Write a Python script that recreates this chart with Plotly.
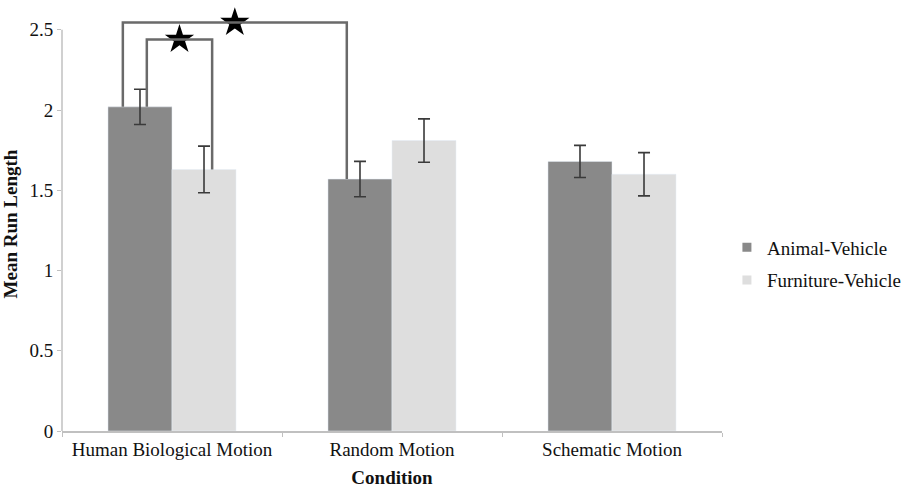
import plotly.graph_objects as go

categories = ["Human Biological Motion", "Random Motion", "Schematic Motion"]
animal = [2.02, 1.57, 1.68]
animal_err = [0.11, 0.11, 0.10]
furniture = [1.63, 1.81, 1.60]
furniture_err = [0.145, 0.135, 0.135]
y_ticks = [0, 0.5, 1, 1.5, 2, 2.5]
y_tick_labels = ["0", "0.5", "1", "1.5", "2", "2.5"]
series_names = ["Animal-Vehicle", "Furniture-Vehicle"]

DARK = "#898989"
LIGHT = "#dedede"
FONT = "Liberation Serif"
TXT = "#111111"

fig = go.Figure()
for name, vals, errs, col in [(series_names[0], animal, animal_err, DARK),
                              (series_names[1], furniture, furniture_err, LIGHT)]:
    fig.add_trace(go.Bar(
        x=categories, y=vals, name=name, marker_color=col, showlegend=False,
        error_y=dict(type="data", array=errs, color="#3a3a3a", thickness=1.6, width=6),
    ))
# legend entries with small square swatches
for i, (name, col) in enumerate([(series_names[0], DARK), (series_names[1], LIGHT)]):
    fig.add_trace(go.Scatter(x=[None], y=[None], mode="markers", name=name,
                             legendgroup=f"g{i}",
                             marker=dict(symbol="square", size=9, color=col)))

# significance brackets: (cat_a, series_a, offset_a, cat_b, series_b, offset_b, height)
bar_half = 0.2909 / 2
series_vals = {"a": animal, "f": furniture}
series_shift = {"a": -bar_half, "f": bar_half}
brackets = [
    (0, "a", -0.078, 1, "a", -0.06, 2.545),
    (0, "a", 0.031, 0, "f", 0.037, 2.44),
]
star_x, star_y = [], []
for ca, sa, oa, cb, sb, ob, h in brackets:
    xa = ca + series_shift[sa] + oa
    xb = cb + series_shift[sb] + ob
    ya = series_vals[sa][ca]
    yb = series_vals[sb][cb]
    fig.add_shape(type="path", xref="x", yref="y",
                  path=f"M {xa} {ya} L {xa} {h} L {xb} {h} L {xb} {yb}",
                  line=dict(color="#6a6a6a", width=2.5))
    star_x.append((xa + xb) / 2)
    star_y.append(h)

fig.add_trace(go.Scatter(x=star_x, y=star_y, mode="markers", showlegend=False,
                         xaxis="x2", yaxis="y",
                         marker=dict(symbol="star", size=22, color="black"),
                         cliponaxis=False, hoverinfo="skip"))

# y axis line from 0 to 2.5
fig.add_shape(type="line", xref="paper", yref="y", x0=0, x1=0, y0=0, y1=y_ticks[-1],
              line=dict(color="#c0c0c0", width=1.5))

fig.update_layout(
    width=903, height=488,
    margin=dict(l=62, r=181, t=17, b=57, autoexpand=False),
    plot_bgcolor="white", paper_bgcolor="white",
    barmode="group", bargap=0.418, bargroupgap=0,
    font=dict(family=FONT, size=19, color=TXT),
    showlegend=True,
    legend=dict(xref="container", yref="container", x=0.805, y=0.459,
                xanchor="left", yanchor="middle",
                font=dict(family=FONT, size=19, color=TXT),
                itemwidth=30, tracegroupgap=5, bgcolor="rgba(0,0,0,0)"),
    xaxis=dict(
        type="category", range=[-0.5, 2.5], automargin=False, tickangle=0,
        showline=True, linecolor="#c0c0c0", linewidth=1.5,
        ticks="outside", tickson="boundaries", ticklen=4, tickcolor="#c0c0c0",
        tickfont=dict(family=FONT, size=19, color=TXT),
        title=dict(text="<b>Condition</b>", font=dict(family=FONT, size=19, color=TXT), standoff=20),
    ),
    xaxis2=dict(range=[-0.5, 2.5], overlaying="x", visible=False),
    yaxis=dict(
        range=[0, 2.58], tickvals=y_ticks, ticktext=y_tick_labels, automargin=False,
        showline=False, showgrid=False, zeroline=False,
        ticks="outside", ticklen=4, tickcolor="#c0c0c0",
        tickfont=dict(family=FONT, size=19, color=TXT),
        title=dict(text="<b>Mean Run Length</b>", font=dict(family=FONT, size=19, color=TXT), standoff=13),
    ),
)

fig.write_html("out.html")
